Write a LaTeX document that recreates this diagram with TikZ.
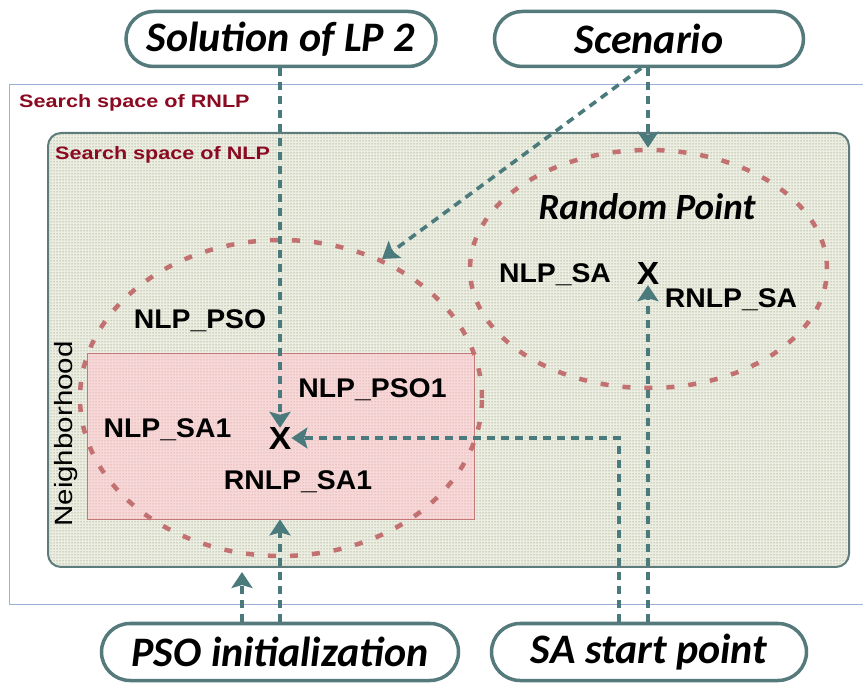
\documentclass[tikz,border=0pt]{standalone}
\usepackage{fontspec}
\newfontfamily\calfont{Carlito}
\newfontfamily\arifont[FakeStretch=1.05]{Liberation Sans}
\newfontfamily\ariwide[FakeStretch=1.2]{Liberation Sans}
\newfontfamily\arinb[FakeStretch=1.18]{Liberation Sans}
\usetikzlibrary{arrows.meta,patterns,shapes.geometric}
\definecolor{arrowc}{HTML}{4A7A7C}
\definecolor{boxb}{HTML}{557A7C}
\definecolor{ellc}{HTML}{C27070}
\definecolor{dred}{HTML}{8B0A22}
\definecolor{outerb}{HTML}{9AB0D8}
\definecolor{nlpb}{HTML}{5E7B7C}
\definecolor{nlpfill}{HTML}{ECEDE3}
\definecolor{nlpdot}{HTML}{6E7D42}
\definecolor{pinkfill}{HTML}{F7D8D8}
\definecolor{pinkdot}{HTML}{D08888}
\definecolor{pinkb}{HTML}{C47878}
\begin{document}
\begin{tikzpicture}[x=1pt,y=-1pt,
  pill/.style={draw=boxb, line width=3.5pt, fill=white, inner sep=0pt,
    font=\calfont\bfseries\itshape\fontsize{42}{44}\selectfont},
  flow/.style={draw=arrowc, line width=3.6pt, dash pattern=on 8pt off 6pt,
    -{Stealth[length=16pt,width=21pt,inset=3pt]}},
  lab/.style={font=\arifont\bfseries\fontsize{27}{29}\selectfont, inner sep=0pt, anchor=base},
  ttl/.style={font=\ariwide\bfseries\fontsize{18}{20}\selectfont, text=dred, inner sep=0pt, anchor=base west},
  xmark/.style={font=\arifont\bfseries\fontsize{32}{32}\selectfont, inner sep=0pt, anchor=base},
  ell/.style={ellipse, draw=ellc, line width=4.5pt, dash pattern=on 8pt off 14pt, inner sep=0pt}
]
\path[use as bounding box] (0,0) rectangle (863,684);
\clip (0,0) rectangle (863,684);

% outer search space
\draw[outerb, line width=1pt] (9.5,84.5) rectangle (880,604.5);
\node[ttl] (rnlp) at (19,108) {Search space of RNLP};

% NLP search space
\node[draw=nlpb, line width=2pt, rounded corners=13pt, minimum width=801pt, minimum height=434pt,
  preaction={fill=nlpfill}, pattern=dots, pattern color=nlpdot] (nlp) at (448.5,350) {};
\node[ttl] (nlpl) at (55,160) {Search space of NLP};

% neighborhood
\node[draw=pinkb, line width=0.8pt, minimum width=387pt, minimum height=166pt,
  preaction={fill=pinkfill}, pattern=dots, pattern color=pinkdot] (pink) at (280.5,436) {};
\node[rotate=90, font=\arinb\fontsize{25}{27}\selectfont, inner sep=0pt] (nb) at (66,434) {Neighborhood};

% ellipses
\node[ell, minimum width=402pt, minimum height=316pt] (lell) at (281,398) {};
\node[ell, minimum width=357pt, minimum height=238pt] (rell) at (648.5,269) {};

% labels
\node[font=\calfont\bfseries\itshape\fontsize{37}{39}\selectfont, inner sep=0pt, anchor=base] (rp) at (647,220) {Random Point};
\node[lab] (nlpsa) at (555,283) {NLP\_SA};
\node[xmark] (x2) at (648,285) {X};
\node[lab] (rnlpsa) at (731,308) {RNLP\_SA};
\node[lab] (nlppso) at (200,329) {NLP\_PSO};
\node[lab] (nlppso1) at (372.5,398) {NLP\_PSO1};
\node[lab] (nlpsa1) at (167.5,438) {NLP\_SA1};
\node[xmark] (x1) at (280,450) {X};
\node[lab] (rnlpsa1) at (298,490) {RNLP\_SA1};

% top and bottom pills
\node[pill, rounded corners=27.5pt, minimum width=310pt, minimum height=55pt] (sol) at (281,39) {Solution of LP 2};
\node[pill, rounded corners=27.5pt, minimum width=309pt, minimum height=55pt] (scen) at (649,39) {Scenario};
\node[pill, rounded corners=28.5pt, minimum width=357pt, minimum height=57pt] (pso) at (280,652) {PSO initialization};
\node[pill, rounded corners=28.5pt, minimum width=315pt, minimum height=57pt] (sa) at (649,652) {SA start point};

% connectors
\coordinate (c4) at (619,438);
\coordinate (c6) at (242,572);
\draw[flow] (x1 |- sol.south) -- (x1.north);
\draw[flow] (x2 |- scen.south) -- (x2 |- rell.north);
\draw[flow] (scen.-105) -- (lell.54);
\draw[flow] (c4 |- sa.north) -- (c4) -- (x1.east |- c4);
\draw[flow] (x2 |- sa.north) -- (x2.south);
\draw[flow] (c6 |- pso.north) -- (c6);
\draw[flow] (x1 |- pso.north) -- (x1 |- pink.south);
\end{tikzpicture}
\end{document}
